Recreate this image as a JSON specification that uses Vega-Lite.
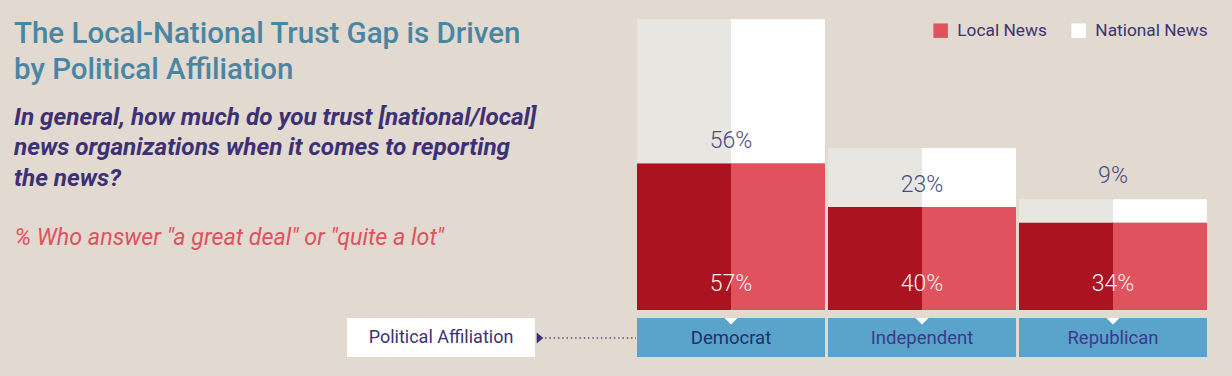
{
  "$schema": "https://vega.github.io/schema/vega-lite/v6.json",
  "width": 1232,
  "height": 376,
  "padding": 0,
  "autosize": {"type": "none"},
  "background": "#E2D9D0",
  "config": {
    "view": {"stroke": null},
    "font": "Roboto",
    "legend": {
      "orient": "none",
      "legendX": 932,
      "legendY": 22,
      "direction": "horizontal",
      "symbolType": "square",
      "symbolSize": 210,
      "symbolStrokeWidth": 0,
      "symbolOpacity": 1,
      "labelFont": "Roboto",
      "labelFontSize": 17.3,
      "labelColor": "#3E3274",
      "labelOffset": 8,
      "columnPadding": 23,
      "padding": 0
    }
  },
  "title": {
    "text": ["The Local-National Trust Gap is Driven", "by Political Affiliation"],
    "subtitle": ["In general, how much do you trust [national/local]", "news organizations when it comes to reporting", "the news?"],
    "anchor": "start",
    "frame": "group",
    "orient": "top",
    "offset": 0,
    "dx": 14,
    "dy": 192,
    "font": "Roboto",
    "fontSize": 29.5,
    "fontWeight": 500,
    "color": "#4A86A3",
    "lineHeight": 36,
    "subtitleFont": "Roboto",
    "subtitleFontSize": 24.3,
    "subtitleFontStyle": "italic",
    "subtitleFontWeight": "bold",
    "subtitleColor": "#3D3075",
    "subtitleLineHeight": 30.5,
    "subtitlePadding": 20
  },
  "datasets": {
    "bars": [
      {"party": "Democrat", "type": "Local News", "value": 0.57},
      {"party": "Democrat", "type": "National News", "value": 0.56},
      {"party": "Independent", "type": "Local News", "value": 0.40},
      {"party": "Independent", "type": "National News", "value": 0.23},
      {"party": "Republican", "type": "Local News", "value": 0.34},
      {"party": "Republican", "type": "National News", "value": 0.09}
    ],
    "label": [{"label": "Political Affiliation"}]
  },
  "layer": [
    {
      "data": {"name": "bars"},
      "transform": [
        {"stack": "value", "groupby": ["party"], "sort": [{"field": "type", "order": "ascending"}], "as": ["v0", "v1"]}
      ],
      "layer": [
        {
          "mark": {"type": "bar"},
          "encoding": {
            "x": {"field": "party", "type": "nominal", "axis": null, "scale": {"domain": ["Democrat", "Independent", "Republican"], "range": [637, 1207], "paddingInner": 0.0157, "paddingOuter": 0}},
            "y": {"field": "v0", "type": "quantitative", "scale": {"domain": [-0.2565, 1.2048], "nice": false, "zero": false},
              "title": "% Who answer \"a great deal\" or \"quite a lot\"",
              "axis": {"orient": "left", "labels": false, "ticks": false, "domain": false, "grid": false,
                "title": "% Who answer \"a great deal\" or \"quite a lot\"",
                "titleAngle": 0, "titleAlign": "left", "titleBaseline": "alphabetic", "titleX": 14, "titleY": 244,
                "titleFont": "Roboto", "titleFontSize": 23.3, "titleFontStyle": "italic", "titleFontWeight": "normal", "titleColor": "#E0525E", "titleOpacity": 1}},
            "y2": {"field": "v1"},
            "color": {"condition": {"test": "datum.type === 'Local News'", "value": "#AC1320"}, "value": "#E7E6E1"}
          }
        },
        {
          "mark": {"type": "bar", "width": {"band": 0.5}, "xOffset": 47},
          "encoding": {
            "x": {"field": "party", "type": "nominal", "axis": null},
            "y": {"field": "v0", "type": "quantitative"},
            "y2": {"field": "v1"},
            "color": {"field": "type", "type": "nominal", "title": null,
              "scale": {"domain": ["Local News", "National News"], "range": ["#DF525E", "#FFFFFF"]}}
          }
        },
        {
          "transform": [{"filter": "datum.type === 'Local News'"}],
          "layer": [
            {
              "mark": {"type": "rect", "color": "#5AA3CA"},
              "encoding": {
                "x": {"field": "party", "type": "nominal", "axis": null},
                "y": {"datum": -0.0311, "type": "quantitative"},
                "y2": {"datum": -0.1827}
              }
            },
            {
              "mark": {"type": "point", "shape": "M-1,-0.5L1,-0.5L0,0.5Z", "filled": true, "color": "#FFFFFF", "opacity": 1, "size": 169, "strokeWidth": 0},
              "encoding": {
                "x": {"field": "party", "type": "nominal", "axis": null},
                "y": {"datum": -0.0435, "type": "quantitative"}
              }
            },
            {
              "mark": {"type": "text", "font": "Roboto", "fontSize": 18.5, "baseline": "middle", "align": "center"},
              "encoding": {
                "x": {"field": "party", "type": "nominal", "axis": null},
                "y": {"datum": -0.1088, "type": "quantitative"},
                "text": {"field": "party"},
                "color": {"condition": {"test": "datum.party === 'Democrat'", "value": "#1F2F6B"}, "value": "#3B3A8A"}
              }
            },
            {
              "mark": {"type": "text", "font": "Roboto", "fontWeight": 300, "fontSize": 23, "baseline": "middle", "align": "center", "dy": -26, "color": "#FAF0F0"},
              "encoding": {
                "x": {"field": "party", "type": "nominal", "axis": null},
                "y": {"datum": 0, "type": "quantitative"},
                "text": {"field": "value", "type": "quantitative", "format": ".0%"}
              }
            }
          ]
        },
        {
          "transform": [{"filter": "datum.type === 'National News' && datum.party !== 'Republican'"}],
          "mark": {"type": "text", "font": "Roboto", "fontWeight": 300, "fontSize": 23, "baseline": "alphabetic", "align": "center", "dy": -15, "color": "#4B4A82"},
          "encoding": {
            "x": {"field": "party", "type": "nominal", "axis": null},
            "y": {"field": "v0", "type": "quantitative"},
            "text": {"field": "value", "type": "quantitative", "format": ".0%"}
          }
        },
        {
          "transform": [{"filter": "datum.type === 'National News' && datum.party === 'Republican'"}],
          "mark": {"type": "text", "font": "Roboto", "fontWeight": 300, "fontSize": 23, "baseline": "alphabetic", "align": "center", "dy": -16, "color": "#4B4A82"},
          "encoding": {
            "x": {"field": "party", "type": "nominal", "axis": null},
            "y": {"field": "v1", "type": "quantitative"},
            "text": {"field": "value", "type": "quantitative", "format": ".0%"}
          }
        }
      ]
    },
    {
      "data": {"name": "label"},
      "layer": [
        {
          "mark": {"type": "rect", "color": "#FFFFFF"},
          "encoding": {
            "x": {"field": "label", "type": "nominal", "axis": null, "scale": {"domain": ["Political Affiliation"], "range": [347, 535], "paddingInner": 0, "paddingOuter": 0}},
            "y": {"datum": -0.0311, "type": "quantitative"},
            "y2": {"datum": -0.1827}
          }
        },
        {
          "mark": {"type": "text", "font": "Roboto", "fontSize": 18, "baseline": "middle", "align": "center", "color": "#3E3274"},
          "encoding": {
            "x": {"field": "label", "type": "nominal", "axis": null},
            "y": {"datum": -0.1088, "type": "quantitative"},
            "text": {"field": "label"}
          }
        },
        {
          "mark": {"type": "point", "shape": "M-0.6,-1L0.6,0L-0.6,1Z", "filled": true, "color": "#3E2F78", "opacity": 1, "size": 121, "strokeWidth": 0, "xOffset": 5},
          "encoding": {
            "x": {"field": "label", "type": "nominal", "axis": null, "bandPosition": 1},
            "y": {"datum": -0.1088, "type": "quantitative"}
          }
        },
        {
          "mark": {"type": "rule", "color": "#5B4F8A", "strokeWidth": 1.6, "strokeDash": [1.5, 2.8], "xOffset": 10, "x2Offset": 101},
          "encoding": {
            "x": {"field": "label", "type": "nominal", "axis": null, "bandPosition": 1},
            "x2": {"field": "label", "bandPosition": 1},
            "y": {"datum": -0.1088, "type": "quantitative"}
          }
        }
      ]
    }
  ],
  "resolve": {"scale": {"x": "independent"}}
}
